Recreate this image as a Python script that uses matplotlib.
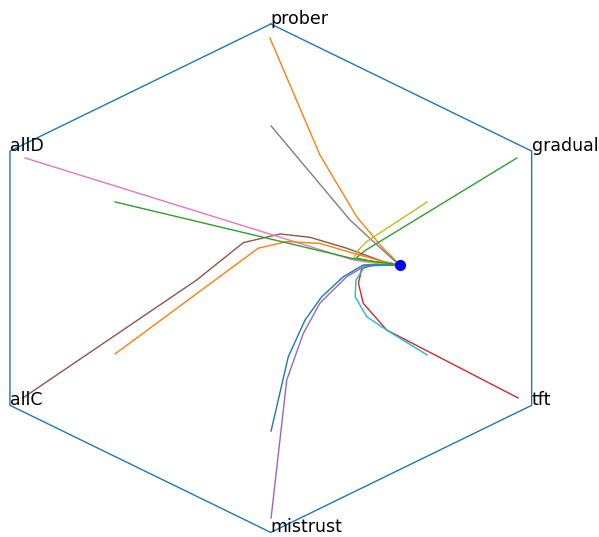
import numpy as np
import matplotlib
matplotlib.use("Agg")
import matplotlib.pyplot as plt

# strategy corners of the simplex projection
labels = ['prober', 'gradual', 'tft', 'mistrust', 'allC', 'allD']
angles = [90, 30, -30, -90, -150, 150]

# trajectories (x, y in hexagon units)
traj_x = [
    [-0.003, 0.163, 0.285, 0.368, 0.418, 0.429],
    [0.817, 0.316, 0.283, 0.346, 0.429],
    [0.821, 0.385, 0.307, 0.291, 0.302, 0.346, 0.429],
    [0.001, 0.053, 0.108, 0.163, 0.252, 0.318, 0.429],
    [-0.823, -0.246, -0.091, 0.031, 0.130, 0.252, 0.374, 0.429],
    [-0.816, 0.273, 0.362, 0.429],
    [0.001, 0.263, 0.346, 0.419, 0.429],
    [0.519, 0.318, 0.291, 0.274, 0.346, 0.429],
    [0.519, 0.385, 0.318, 0.280, 0.283, 0.313, 0.429],
    [0.001, 0.058, 0.114, 0.169, 0.241, 0.307, 0.429],
    [-0.517, -0.042, 0.053, 0.163, 0.274, 0.379, 0.429],
    [-0.517, 0.269, 0.429],
]
traj_y = [
    [0.945, 0.485, 0.242, 0.124, 0.065, 0.052],
    [0.473, 0.111, 0.0795, 0.064, 0.052],
    [-0.471, -0.204, -0.099, -0.020, 0.039, 0.052, 0.052],
    [-0.943, -0.400, -0.217, -0.098, 0.006, 0.052, 0.052],
    [-0.471, -0.007, 0.140, 0.174, 0.161, 0.118, 0.065, 0.052],
    [0.473, 0.072, 0.056, 0.052],
    [0.599, 0.229, 0.138, 0.060, 0.052],
    [0.300, 0.144, 0.111, 0.078, 0.060, 0.052],
    [-0.302, -0.204, -0.151, -0.073, -0.007, 0.048, 0.052],
    [-0.601, -0.309, -0.164, -0.073, 0.006, 0.052, 0.052],
    [-0.298, 0.118, 0.144, 0.137, 0.098, 0.064, 0.052],
    [0.300, 0.078, 0.052],
]
fixed_point = (0.429, 0.052)

fig = plt.figure(figsize=(5.99, 5.37), dpi=100)
ax = fig.add_axes([0, 0, 1, 1])

hx = [np.cos(np.radians(a)) for a in angles]
hy = [np.sin(np.radians(a)) for a in angles]
ax.plot(hx + hx[:1], hy + hy[:1], lw=1.0)
for lab, x, y in zip(labels, hx, hy):
    ax.text(x, y, lab, fontsize=12.5)

for xs, ys in zip(traj_x, traj_y):
    ax.plot(xs, ys, lw=1.0)

ax.plot(fixed_point[0], fixed_point[1], 'bo', ms=7, zorder=5)

ax.set_xlim(-0.899, 1.0896)
ax.set_ylim(-1.018, 1.0944)
ax.axis('off')

plt.savefig("out.png", dpi=100)
plt.close()
